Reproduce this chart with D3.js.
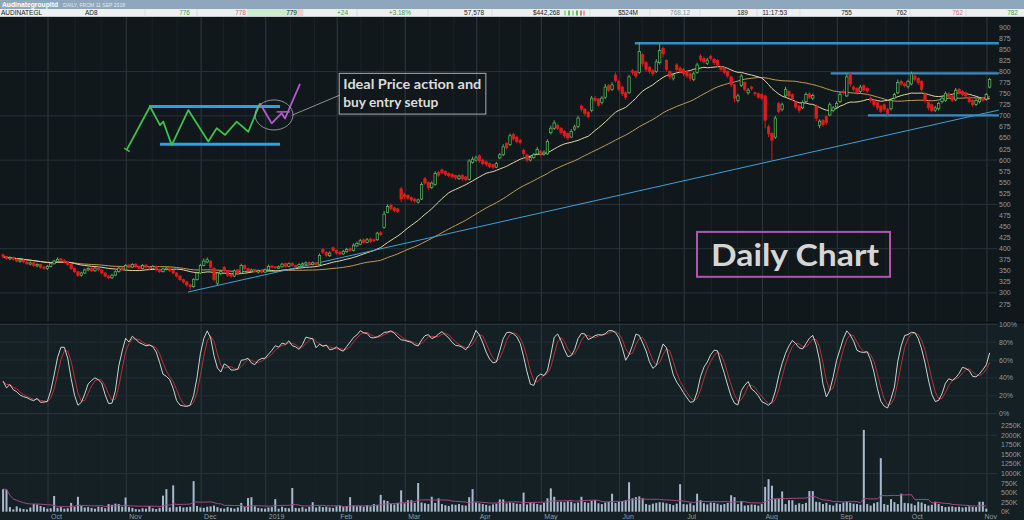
<!DOCTYPE html>
<html><head><meta charset="utf-8">
<script src="https://cdn.jsdelivr.net/npm/d3@7"></script>
<style>html,body{margin:0;padding:0;background:#11181c;overflow:hidden}</style>
</head><body><svg id="c" width="1024" height="520"></svg>
<script>
// ---------------- DATA ----------------
const opens=[386,382,377,380,376,371,374,370,365,368,361,364,358,355,360,366,371,377,374,370,364,355,348,340,345,352,356,350,357,352,345,338,334,340,348,357,352,363,358,365,360,355,363,359,355,360,353,348,353,357,350,345,338,330,325,318,314,330,345,362,370,372,356,322,344,358,350,342,338,352,345,362,355,349,353,347,351,347,352,361,359,356,359,366,360,367,362,360,363,365,369,364,368,364,398,392,384,402,396,392,388,393,400,396,406,410,420,414,422,420,420,436,448,482,498,492,490,535,522,520,516,512,505,512,558,550,538,545,572,578,574,570,568,565,558,566,562,556,595,600,610,600,596,592,590,584,605,612,638,635,658,652,645,622,612,600,606,614,620,614,614,662,672,678,672,665,660,652,670,676,722,715,708,712,740,738,730,742,768,760,792,778,765,752,752,802,800,798,838,820,810,802,800,820,852,825,800,785,815,808,805,800,795,782,798,835,830,818,834,828,825,810,808,800,788,770,735,768,775,752,765,752,750,748,745,675,660,652,728,715,745,755,748,730,722,718,732,750,740,722,678,690,698,702,712,720,732,755,745,795,765,762,755,768,762,740,735,730,722,725,715,716,740,752,778,772,766,772,790,785,778,750,730,725,713,716,732,735,750,745,736,760,755,752,742,735,726,732,740,738,765];
const highs=[389,384,383,382,378,377,376,372,371,370,367,366,361,363,369,375,380,379,376,372,366,357,350,348,355,358,358,359,359,354,347,340,343,351,359,360,365,366,367,367,362,365,365,361,363,362,355,357,359,359,352,347,340,332,327,320,333,348,366,378,380,374,358,348,352,361,352,345,353,354,366,364,357,355,355,353,353,355,364,363,361,362,368,368,369,369,364,367,369,371,371,371,370,389,402,394,394,405,398,395,397,402,403,412,416,422,423,424,425,423,438,440,485,500,502,495,492,540,526,523,518,515,513,550,562,552,552,575,576,581,577,573,571,567,567,568,564,602,608,610,613,603,599,595,592,596,616,636,641,660,662,655,648,626,614,610,616,630,623,622,647,678,690,682,675,668,662,670,680,700,726,718,711,745,745,740,745,772,772,776,798,781,768,755,793,806,803,865,842,824,813,805,828,862,856,828,803,797,819,812,808,803,798,800,820,840,834,831,838,831,828,813,811,803,791,772,750,795,778,763,768,755,753,751,748,680,665,700,732,730,766,758,751,733,725,735,753,753,750,726,692,693,701,730,722,733,754,760,795,798,769,765,770,771,765,744,738,733,725,728,718,740,752,782,782,776,782,800,794,788,781,753,733,728,722,732,745,755,753,748,763,763,758,755,745,738,739,742,743,752,786];
const lows=[378,375,374,373,369,368,367,363,362,359,358,355,352,352,358,364,369,371,367,361,352,345,336,337,343,349,347,348,349,342,335,331,332,338,346,349,350,355,356,357,352,353,355,353,353,349,345,346,351,347,342,335,327,321,314,307,312,328,343,360,367,355,326,316,340,347,336,334,336,342,343,352,347,346,345,344,344,345,350,355,354,354,357,357,358,359,357,358,361,363,362,362,361,362,388,381,381,393,387,385,386,391,393,394,404,408,411,412,413,415,418,428,445,480,486,482,480,505,512,510,505,503,502,510,544,532,535,542,562,568,564,561,558,555,555,553,552,554,592,597,594,588,586,582,580,582,602,609,624,632,644,638,635,608,595,597,603,611,608,610,612,658,668,668,658,650,645,650,666,672,710,700,694,708,730,720,726,738,754,756,775,755,745,736,750,793,785,795,812,800,795,790,797,816,832,800,782,780,800,796,790,785,778,778,795,823,818,815,825,815,810,800,794,785,765,730,730,765,755,748,757,745,738,735,672,652,600,648,705,710,742,740,733,715,707,715,729,738,736,688,672,675,680,699,708,717,729,748,742,765,755,748,751,754,752,730,720,713,706,710,700,712,737,749,768,764,762,769,778,770,755,728,713,708,709,712,728,732,738,731,733,748,744,741,728,720,722,728,731,734,762];
const closes=[382,378,380,376,372,374,370,366,368,362,364,358,356,360,366,372,376,374,370,364,355,348,340,345,352,355,350,356,352,345,338,334,340,348,356,352,362,358,364,360,355,362,358,356,360,352,348,354,356,350,345,338,330,325,318,314,330,345,362,372,375,358,330,345,348,350,340,338,350,345,362,355,350,352,348,350,347,352,360,358,357,359,365,360,366,362,360,364,366,368,365,368,364,385,392,385,390,396,390,388,394,398,396,408,412,418,414,420,416,418,435,432,478,495,490,486,484,512,518,514,510,508,510,545,548,538,548,570,566,572,568,565,562,560,564,558,556,598,602,605,598,592,590,586,584,592,612,630,628,655,648,642,640,615,600,606,612,624,614,618,642,672,684,672,662,655,650,665,675,695,715,705,698,740,735,724,740,765,758,770,780,760,750,742,788,798,790,845,818,805,800,795,822,848,840,805,788,792,805,800,795,790,785,795,815,828,822,826,830,820,815,805,798,790,770,740,745,790,760,758,762,750,742,740,690,660,645,695,710,725,760,745,738,720,712,730,748,742,746,695,688,680,685,725,718,728,748,752,788,772,760,752,765,758,756,735,725,718,710,715,705,735,748,775,772,768,778,795,782,775,760,735,718,712,718,728,740,750,742,735,758,752,748,745,732,725,735,738,735,748,782];
const volumes=[590,575,120,60,140,90,70,60,110,200,190,150,120,80,90,410,100,120,80,90,230,130,390,150,110,120,100,80,130,120,90,200,180,210,200,130,370,120,100,70,60,90,80,150,90,70,100,420,590,110,690,120,140,110,120,130,800,150,110,100,130,140,160,120,90,80,120,100,80,110,230,130,360,380,140,100,90,80,110,120,330,80,130,100,90,620,100,90,120,80,130,250,110,140,120,130,110,100,140,160,130,150,380,160,140,150,130,170,140,200,180,440,300,280,200,190,230,560,220,300,300,230,750,240,220,200,390,230,350,200,170,150,190,180,200,170,160,380,590,240,220,200,180,160,190,210,320,320,220,240,230,210,200,500,190,240,220,200,180,230,350,610,390,260,260,250,270,260,220,240,390,250,230,280,300,220,200,240,260,470,230,260,280,300,770,350,380,400,350,200,180,210,230,250,240,220,200,170,210,720,200,190,220,170,470,300,220,190,240,230,210,180,200,230,430,380,200,280,160,170,190,180,160,200,650,850,680,330,330,530,200,300,300,180,220,200,230,540,540,260,250,200,230,180,160,220,200,240,260,230,210,200,180,2140,200,160,220,250,1400,200,180,330,250,200,470,230,220,210,170,260,240,200,160,180,260,200,150,120,130,140,120,130,110,120,140,130,120,260,260,80];
const monthLabels=["Oct","Nov","Dec","2019","Feb","Mar","Apr","May","Jun","Jul","Aug","Sep","Oct","Nov"];
const monthStarts=[14,37,59,78,99,119,140,159,182,201,224,246,267,290];
const priceTicks=d3.range(275,901,25);
const stochTicks=[0,20,40,60,80,100];
const volTicks=d3.range(0,2251,250);
// annotation geometry in (day index, price) terms
const trendLine=[[54.35,302],[292.7,713]];
const resistLines=[[185.7,292.7,864],[243.3,292.7,796],[254.2,292.7,701]];
const sketchGreen=[[36.33,623],[43.18,721],[46.12,679],[47.09,687],[49.56,634],[54.44,713],[60.32,642],[62.79,672],[65.23,657],[68.67,687],[72.08,664],[75.51,728]];
const sketchPurple=[[75.51,728],[78.95,683],[81.89,706],[82.86,694],[87.27,772]];
const sketchBands=[[42.9,81.4,721],[46.1,81.4,636]];

// ---------------- LAYOUT ----------------
const W=1024,H=520;
const svg=d3.select("#c");
const N=closes.length;
const days=d3.range(N);
const x=d3.scaleBand().domain(days).range([1.4,1.4+N*3.402]).padding(0);
const bw=x.bandwidth();
const xc=i=>x(i)+bw/2;
const xl=d3.scaleLinear().domain([-0.5,N-0.5]).range([1.4,1.4+N*3.402]);
const yP=d3.scaleLinear().domain([275,900]).range([304,27.3]);
const yS=d3.scaleLinear().domain([0,100]).range([413.7,324.3]);
const yV=d3.scaleLinear().domain([0,2250]).range([511.7,425.7]);
const UP="#5fbf5f",DN="#e01c1c",BG="#11181c",LOW_BG="#152024";

function sma(a,n){return a.map((v,i)=>d3.mean(a.slice(Math.max(0,i-n+1),i+1)));}

// backgrounds
svg.append("rect").attr("x",0).attr("y",0).attr("width",W).attr("height",H).attr("fill",BG);
svg.append("rect").attr("x",0).attr("y",323).attr("width",W).attr("height",197).attr("fill",LOW_BG);

// grid
const grid=svg.append("g");
const minor=[];
for(let k=0;k<monthStarts.length-1;k++){const a=monthStarts[k],b=monthStarts[k+1];minor.push(a+(b-a)/3,a+2*(b-a)/3);}
minor.push(7);
grid.selectAll("line.mn").data(minor).join("line").attr("x1",d=>xl(d-0.5)).attr("x2",d=>xl(d-0.5)).attr("y1",17).attr("y2",512).attr("stroke","#1c262b").attr("stroke-width",0.8);
grid.selectAll("line.mv").data(monthStarts).join("line").attr("x1",d=>x(d)-1).attr("x2",d=>x(d)-1).attr("y1",17).attr("y2",512).attr("stroke","#2d393f").attr("stroke-width",1);
grid.selectAll("line.ph").data([300,400,500,600,700,800]).join("line").attr("x1",0).attr("x2",997).attr("y1",d=>yP(d)).attr("y2",d=>yP(d)).attr("stroke","#27333a");
grid.selectAll("line.sh").data(stochTicks).join("line").attr("x1",0).attr("x2",997).attr("y1",d=>yS(d)).attr("y2",d=>yS(d)).attr("stroke",d=>(d===0||d===100)?"#2c383e":"#222d33");
grid.selectAll("line.vh").data([1000,2000]).join("line").attr("x1",0).attr("x2",997).attr("y1",d=>yV(d)).attr("y2",d=>yV(d)).attr("stroke","#26323a");
svg.append("line").attr("x1",0).attr("x2",W).attr("y1",322.5).attr("y2",322.5).attr("stroke","#0b1013").attr("stroke-width",1.5);

// right axes
const axisG=svg.append("g").attr("font-family","Liberation Sans, Arial, sans-serif").attr("font-size",7).attr("fill","#8e9aa0");
axisG.selectAll("text.p").data(priceTicks).join("text").attr("x",999).attr("y",d=>yP(d)+2.5).text(d=>d);
axisG.selectAll("text.s").data(stochTicks).join("text").attr("x",999).attr("y",d=>yS(d)+2.5).text(d=>d+"%");
axisG.selectAll("text.v").data(volTicks).join("text").attr("x",1001).attr("y",d=>yV(d)+2.5).text(d=>d+"K");
axisG.selectAll("text.m").data(monthStarts).join("text")
 .attr("x",(d,k)=>k===monthStarts.length-1?997:x(d)+2)
 .attr("text-anchor",(d,k)=>k===monthStarts.length-1?"end":"start")
 .attr("y",519).text((d,k)=>monthLabels[k]);

// moving averages
const ma20=sma(closes,20),ma50=sma(closes,50);
const pline=arr=>d3.line().x(i=>xc(i)).y(i=>yP(arr[i]))(days);
svg.append("path").attr("d",pline(ma50)).attr("fill","none").attr("stroke","#c29a52").attr("stroke-width",1);
svg.append("path").attr("d",pline(ma20)).attr("fill","none").attr("stroke","#e2d6a0").attr("stroke-width",1);

// trend line & resistance
svg.append("line").attr("x1",xl(trendLine[0][0])).attr("y1",yP(trendLine[0][1])).attr("x2",xl(trendLine[1][0])).attr("y2",yP(trendLine[1][1])).attr("stroke","#3f9fd6").attr("stroke-width",1);
svg.selectAll("line.res").data(resistLines).join("line").attr("x1",d=>xl(d[0])).attr("x2",d=>xl(d[1])).attr("y1",d=>yP(d[2])).attr("y2",d=>yP(d[2])).attr("stroke","#3a8cc2").attr("stroke-width",2.4);

// candles
const cg=svg.append("g");
const isUp=i=>closes[i]>=opens[i];
cg.selectAll("line.w").data(days).join("line").attr("x1",xc).attr("x2",xc).attr("y1",i=>yP(highs[i])).attr("y2",i=>yP(lows[i])).attr("stroke",i=>isUp(i)?UP:DN).attr("stroke-width",0.9);
cg.selectAll("rect.b").data(days).join("rect").attr("x",i=>xc(i)-1.2).attr("width",2.4)
 .attr("y",i=>yP(Math.max(opens[i],closes[i]))).attr("height",i=>Math.max(0.8,Math.abs(yP(opens[i])-yP(closes[i]))))
 .attr("fill",i=>isUp(i)?BG:DN).attr("stroke",i=>isUp(i)?UP:DN).attr("stroke-width",0.7);

// stochastic (14,3,3) derived from OHLC
const rawK=days.map(i=>{const s=Math.max(0,i-13);const hh=d3.max(highs.slice(s,i+1)),ll=d3.min(lows.slice(s,i+1));return hh>ll?100*(closes[i]-ll)/(hh-ll):50;});
const slowK=sma(rawK,3),slowD=sma(slowK,3);
const sline=arr=>d3.line().x(i=>xc(i)).y(i=>yS(arr[i]))(days);
svg.append("path").attr("d",sline(slowD)).attr("fill","none").attr("stroke","#b53232").attr("stroke-width",1);
svg.append("path").attr("d",sline(slowK)).attr("fill","none").attr("stroke","#dfe6e6").attr("stroke-width",0.9);

// volume
svg.append("g").selectAll("rect").data(days).join("rect").attr("x",i=>xc(i)-1).attr("width",2)
 .attr("y",i=>yV(volumes[i])).attr("height",i=>yV(0)-yV(volumes[i])).attr("fill","#a8b9cd");
const vma=sma(volumes,15);
svg.append("path").attr("d",d3.line().x(i=>xc(i)).y(i=>yV(vma[i]))(days)).attr("fill","none").attr("stroke","#a4478a").attr("stroke-width",1);

// sketch annotation
const al=d3.line().x(d=>xl(d[0])).y(d=>yP(d[1]));
svg.selectAll("line.band").data(sketchBands).join("line").attr("x1",d=>xl(d[0])).attr("x2",d=>xl(d[1])).attr("y1",d=>yP(d[2])).attr("y2",d=>yP(d[2])).attr("stroke","#27a3e2").attr("stroke-width",3);
svg.append("path").attr("d",al(sketchGreen)).attr("fill","none").attr("stroke","#3fbf4f").attr("stroke-width",1.8).attr("stroke-linejoin","round");
svg.append("line").attr("x1",xl(35.6)).attr("x2",xl(37.2)).attr("y1",yP(627)).attr("y2",yP(619)).attr("stroke","#3fbf4f").attr("stroke-width",1.5);
svg.append("path").attr("d",al(sketchPurple)).attr("fill","none").attr("stroke","#b35ad0").attr("stroke-width",1.8).attr("stroke-linejoin","round");
svg.append("line").attr("x1",xl(80.4)).attr("x2",xl(84.3)).attr("y1",yP(709)).attr("y2",yP(709)).attr("stroke","#b35ad0").attr("stroke-width",1.5);
svg.append("ellipse").attr("cx",xl(79.63)).attr("cy",yP(702)).attr("rx",xl(79.63+5.58)-xl(79.63)).attr("ry",yP(702-33.9)-yP(702)).attr("fill","none").attr("stroke","#a9aeb0").attr("stroke-width",0.8);
svg.append("line").attr("x1",xl(85.1)).attr("y1",yP(702)).attr("x2",xl(99.03)).attr("y2",yP(747)).attr("stroke","#a9aeb0").attr("stroke-width",0.8);
svg.append("rect").attr("x",xl(98.8)).attr("y",yP(796)).attr("width",xl(141.9)-xl(98.8)).attr("height",yP(704)-yP(796)).attr("fill","none").attr("stroke","#a9aeb0").attr("stroke-width",1);
const tg=svg.append("g").attr("font-family","Lato, 'Open Sans', sans-serif").attr("font-weight","bold").attr("fill","#dcdcdc");
tg.append("text").attr("x",xl(100)).attr("y",yP(760.6)).attr("font-size",14).attr("textLength",138).attr("lengthAdjust","spacingAndGlyphs").text("Ideal Price action and");
tg.append("text").attr("x",xl(100)).attr("y",yP(720.6)).attr("font-size",14).attr("textLength",95).attr("lengthAdjust","spacingAndGlyphs").text("buy entry setup");

// Daily Chart label
svg.append("rect").attr("x",xl(203.97)).attr("y",yP(437.8)).attr("width",xl(260.7)-xl(203.97)).attr("height",yP(336.4)-yP(437.8)).attr("fill","none").attr("stroke","#b452b4").attr("stroke-width",2);
tg.append("text").attr("x",xl(232.8)).attr("y",yP(360.8)).attr("text-anchor","middle").attr("font-size",31).attr("fill","#d6d6d6").attr("textLength",168).attr("lengthAdjust","spacingAndGlyphs").text("Daily Chart");

// header
const hd=svg.append("g");
hd.append("rect").attr("x",0).attr("y",0).attr("width",W).attr("height",9).attr("fill","#8ea7bc");
hd.append("rect").attr("x",0).attr("y",9).attr("width",W).attr("height",7.5).attr("fill","#eef0f0");
hd.append("rect").attr("x",248).attr("y",9).attr("width",49).attr("height",7.5).attr("fill","#cdeccd");
hd.append("rect").attr("x",297).attr("y",9).attr("width",6).attr("height",7.5).attr("fill","#f3cccc");
hd.append("line").attr("x1",0).attr("x2",W).attr("y1",16.5).attr("y2",16.5).attr("stroke","#c5c9cb");
hd.selectAll("line.sep").data([145,197,248,303,357,428,492,590,650,700,757,800,910,966]).join("line").attr("x1",d=>d).attr("x2",d=>d).attr("y1",9).attr("y2",16.5).attr("stroke","#d9dddd");
hd.append("text").attr("x",2).attr("y",7.3).attr("font-family","Liberation Sans, Arial, sans-serif").attr("font-weight","bold").attr("font-size",8).attr("fill","#ffffff").attr("textLength",56).attr("lengthAdjust","spacingAndGlyphs").text("Audinategroupltd");
hd.append("text").attr("x",63).attr("y",7).attr("font-family","Liberation Sans, Arial, sans-serif").attr("font-size",5).attr("fill","#e3eaf0").attr("textLength",62).attr("lengthAdjust","spacingAndGlyphs").text("DAILY, FROM 11 SEP 2018");
const cells=[["AUDINATEGL",1,"start","#1a1a1a"],["AD8",85,"start","#1a1a1a"],["776",190,"end","#4a9a4a"],["778",246,"end","#c86a78"],["779",297,"end","#1a1a1a"],["+24",348,"end","#4a9a4a"],["+3.18%",411,"end","#4a9a4a"],["57,578",484,"end","#1a1a1a"],["$442,268",560,"end","#1a1a1a"],["$524M",638,"end","#1a1a1a"],["768.12",690,"end","#8696a6"],["189",748,"end","#1a1a1a"],["11:17:53",787,"end","#1a1a1a"],["755",852,"end","#1a1a1a"],["762",907,"end","#1a1a1a"],["762",963,"end","#d07484"],["782",1018,"end","#4a9a4a"]];
hd.selectAll("text.cell").data(cells).join("text").attr("x",d=>d[1]).attr("y",15).attr("text-anchor",d=>d[2]).attr("fill",d=>d[3]).attr("font-family","Liberation Sans, Arial, sans-serif").attr("font-size",6.5).text(d=>d[0]);
hd.selectAll("rect.mini").data([[564,"#9ad89a"],[568,"#5cbf5c"],[572,"#9ad89a"],[576,"#5cbf5c"],[580,"#e07a7a"],[583,"#f0a0a0"]]).join("rect").attr("x",d=>d[0]).attr("y",10.5).attr("width",2).attr("height",5).attr("fill",d=>d[1]);
</script></body></html>
